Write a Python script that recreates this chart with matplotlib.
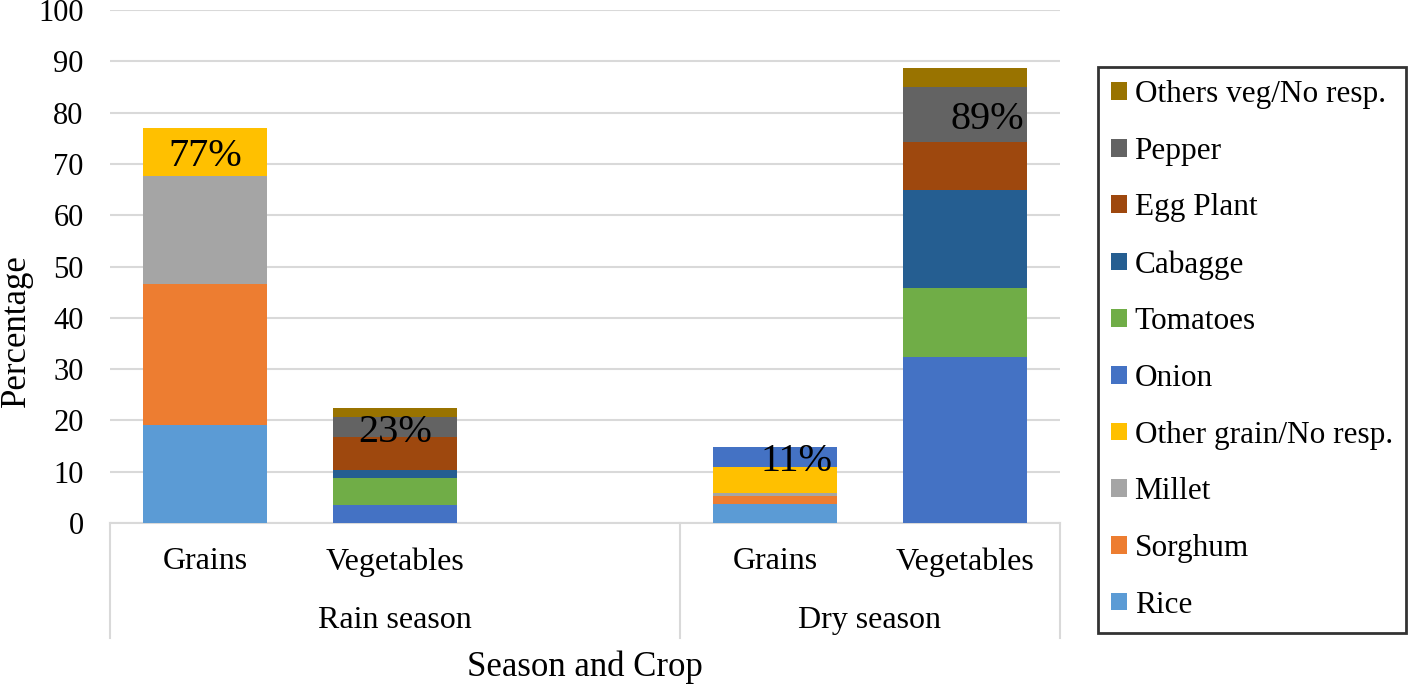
import numpy as np
import matplotlib.pyplot as plt

plt.rcParams['font.family'] = ['Liberation Serif', 'DejaVu Serif']

# categories (the empty slot is the gap Excel leaves in the rain season group)
crops = ['Grains', 'Vegetables', '', 'Grains', 'Vegetables']
seasons = ['Rain season', 'Dry season']

series = ['Rice', 'Sorghum', 'Millet', 'Other grain/No resp.', 'Onion',
          'Tomatoes', 'Cabagge', 'Egg Plant', 'Pepper', 'Others veg/No resp.']
rice = [19.1, 0, 0, 3.8, 0]
sorghum = [27.4, 0, 0, 1.4, 0]
millet = [21.2, 0, 0, 0.6, 0]
other_grain = [9.3, 0, 0, 5.1, 0]
onion = [0, 3.5, 0, 4.0, 32.3]
tomatoes = [0, 5.3, 0, 0, 13.6]
cabagge = [0, 1.5, 0, 0, 19.1]
egg_plant = [0, 6.4, 0, 0, 9.3]
pepper = [0, 3.9, 0, 0, 10.6]
others_veg = [0, 1.9, 0, 0, 3.7]
values = [rice, sorghum, millet, other_grain, onion,
          tomatoes, cabagge, egg_plant, pepper, others_veg]
colors = ['#5B9BD5', '#ED7D31', '#A5A5A5', '#FFC000', '#4472C4',
          '#70AD47', '#255E91', '#9E480E', '#636363', '#997300']

# total labels: text, category index, series whose segment holds the label
total_labels = ['77%', '23%', '11%', '89%']
label_cat = [0, 1, 3, 4]
label_series = ['Other grain/No resp.', 'Pepper', 'Onion', 'Pepper']

fig = plt.figure(figsize=(14.19, 6.85), dpi=100)
ax = fig.add_axes([110 / 1419, 162 / 685, 950 / 1419, 513 / 685])

x = np.arange(len(crops))
bottom = np.zeros(len(crops))
bottoms = {}
handles = []
for name, vals, col in zip(series, values, colors):
    vals = np.array(vals, dtype=float)
    bottoms[name] = bottom.copy()
    h = ax.bar(x, vals, 0.65, bottom=bottom, color=col, label=name, zorder=3)
    handles.append(h)
    bottom += vals

for txt, ci, sname in zip(total_labels, label_cat, label_series):
    vals = values[series.index(sname)]
    yc = bottoms[sname][ci] + vals[ci] / 2
    dx = 0.115 if ci >= 3 else 0
    ax.text(ci + dx, yc - 1.0, txt, ha='center', va='center', fontsize=29, zorder=4)

ax.set_xlim(-0.5, 4.5)
ax.set_ylim(0, 100)
ax.set_yticks(range(0, 101, 10))
ax.yaxis.grid(True, color='#D9D9D9', linewidth=1.5, zorder=0)
ax.set_xticks([])
for s in ['top', 'right', 'left']:
    ax.spines[s].set_visible(False)
ax.spines['bottom'].set_color('#D9D9D9')
ax.spines['bottom'].set_linewidth(1.5)
ax.tick_params(axis='y', length=0, pad=19, labelsize=22)
ax.set_ylabel('Percentage', fontsize=25, va='center')
ax.yaxis.set_label_coords(-0.098, 0.376)

# multi-level category axis
tr = ax.get_xaxis_transform()
for xi, c in zip(x, crops):
    ax.text(xi, -0.076, c, transform=tr, ha='center', va='center', fontsize=23)
ax.text(1, -0.19, seasons[0], transform=tr, ha='center', va='center', fontsize=23)
ax.text(3.5, -0.19, seasons[1], transform=tr, ha='center', va='center', fontsize=23)
for xv in [-0.5, 2.5, 4.5]:
    ax.plot([xv, xv], [0, -0.224], transform=tr, color='#D9D9D9', lw=1.5, clip_on=False)
ax.text(2, -0.282, 'Season and Crop', transform=tr, ha='center', va='center', fontsize=25)

leg = fig.legend(handles[::-1], series[::-1], loc='upper left',
                 bbox_to_anchor=(1098 / 1419, 1 - 67 / 685), fontsize=22.5,
                 frameon=True, fancybox=False, edgecolor='black',
                 handlelength=0.5, handleheight=0.5, handletextpad=0.25,
                 labelspacing=0.885, borderpad=0.42, borderaxespad=0)
leg.get_frame().set_linewidth(2)

plt.savefig('out.png', dpi=100)
